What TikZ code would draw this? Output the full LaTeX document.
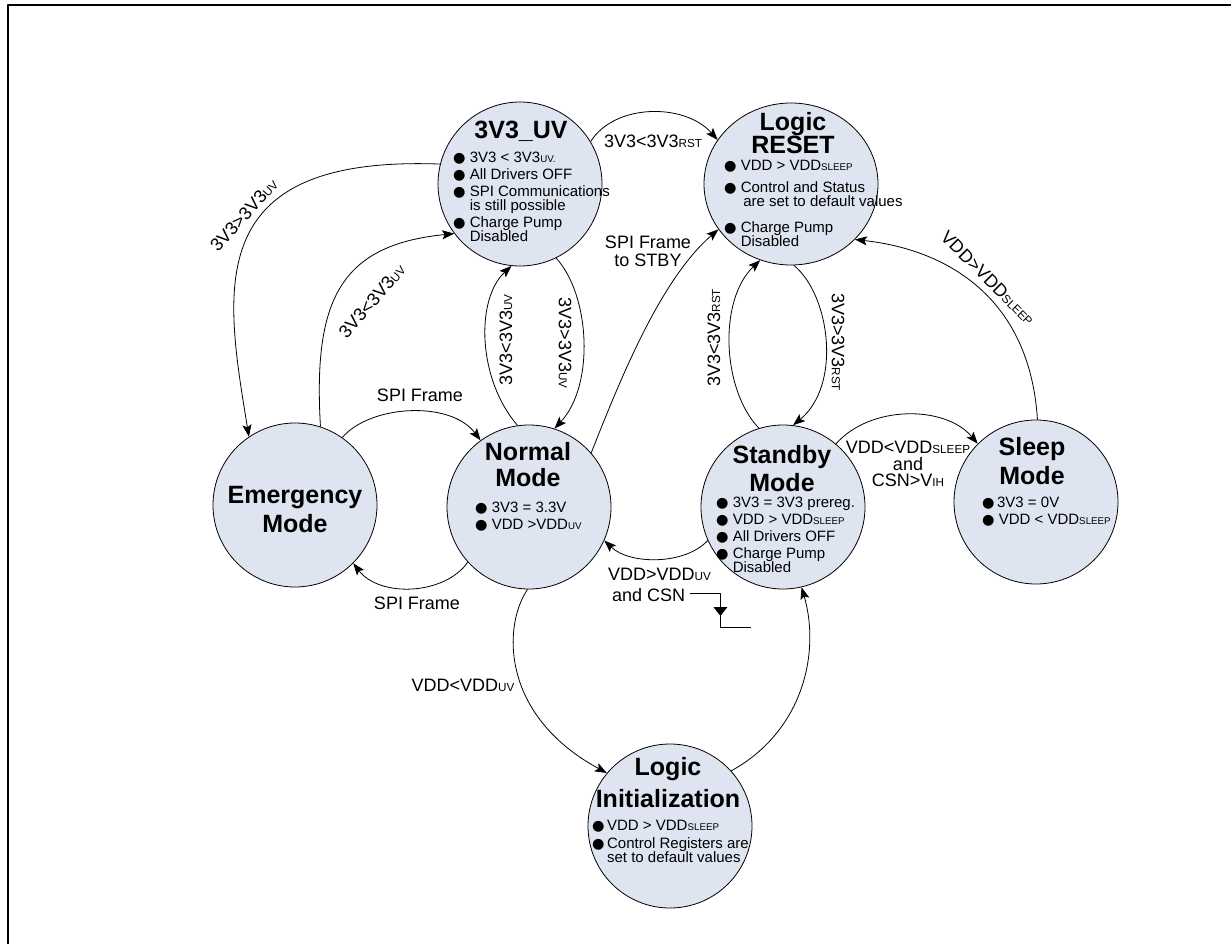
\documentclass[tikz,border=0pt]{standalone}
\usepackage{fontspec}
\usepackage{graphicx}
\setmainfont{Liberation Sans}
\newfontfamily\symfont{DejaVu Sans}
\usetikzlibrary{arrows.meta,shapes.geometric}
\definecolor{statefill}{RGB}{222,229,241}
\newcommand\sml[1]{\scalebox{0.65}{#1}}
\newcommand\bul{{\symfont\scalebox{0.95}{●}}}
\newcommand\ind{\phantom{\bul\ }}
\begin{document}
\begin{tikzpicture}[x=1pt,y=-1pt,>={Stealth[length=12pt,width=9pt,inset=2.5pt]},line join=round,
	font=\fontsize{18}{18}\selectfont,
	state/.style={circle,draw,fill=statefill,minimum size=164pt,inner sep=0pt,line width=0.8pt},
	title/.style={font=\fontsize{25}{27}\selectfont\bfseries,align=center,inner sep=0pt,anchor=north},
	body/.style={font=\fontsize{15}{14}\selectfont,align=left,inner sep=0pt,anchor=north west},
	lbl/.style={inner sep=0pt,align=center},
	trans/.style={->,line width=0.8pt}]
	\useasboundingbox (0,0) rectangle (1231,944);
	\draw[line width=2.2pt] (8,944) |- (1231,5.3);
	% states
	\node[state] (uv) at (520,184) {};
	\node[state,ellipse,minimum width=174pt,minimum height=162pt] (rst) at (791,184) {};
	\node[state] (em) at (295,505) {};
	\node[state] (nor) at (529,507) {};
	\node[state] (stb) at (783,507) {};
	\node[state] (slp) at (1036,502) {};
	\node[state] (ini) at (670,826) {};
	% titles
	\node[title] (uvT) at (521,121) {3V3\_UV};
	\node[title] (rstT) at (793,112) {Logic\\[-4pt]RESET};
	\node[title] (emT) at (295,486) {Emergency\\[2pt]Mode};
	\node[title] (norT) at (528,442) {Normal\\[-1pt]Mode};
	\node[title] (stbT) at (782,445) {Standby\\[1pt]Mode};
	\node[title] (slpT) at (1032,437) {Sleep\\[2pt]Mode};
	\node[title] (iniT) at (668,757) {Logic\\[5pt]Initialization};
	% contents
	\node[body] (uvB) at (453,152) {\bul\ 3V3 < 3V3\sml{UV.}\\[3pt]\bul\ All Drivers OFF\\[3pt]\bul\ SPI Communications\\\ind is still possible\\[3pt]\bul\ Charge Pump\\\ind Disabled};
	\node[body] (rstB) at (724,160) {\bul\ VDD > VDD\sml{SLEEP}\\[8pt]\bul\ Control and Status\\\ind\,are set to default values\\[12pt]\bul\ Charge Pump\\\ind Disabled};
	\node[body] (norB) at (475,502) {\bul\ 3V3 = 3.3V\\[3pt]\bul\ VDD >VDD\sml{UV}};
	\node[body] (stbB) at (716,497) {\bul\ 3V3 = 3V3 prereg.\\[3pt]\bul\ VDD > VDD\sml{SLEEP}\\[3pt]\bul\ All Drivers OFF\\[3pt]\bul\ Charge Pump\\\ind Disabled};
	\node[body] (slpB) at (982,497) {\bul\,3V3 = 0V\\[3pt]\bul\ VDD < VDD\sml{SLEEP}};
	\node[body] (iniB) at (592,820) {\bul\,VDD > VDD\sml{SLEEP}\\[4pt]\bul\,Control Registers are\\\phantom{\bul\,}set to default values};
	% transitions
	\draw[trans] (uv.166) .. controls (200,155) and (225,290) .. (em.124);
	\draw[trans] (em.72) .. controls (313,300) and (340,245) .. (uv.217);
	\draw[trans] (em.55) .. controls (370,405) and (450,400) .. (nor.126);
	\draw[trans] (nor.222) .. controls (445,595) and (380,598) .. (em.315);
	\draw[trans] (nor.98) .. controls (478,380) and (475,300) .. (uv.264);
	\draw[trans] (uv.296) .. controls (590,295) and (595,385) .. (nor.72);
	\draw[trans] (uv.31) .. controls (615,103) and (685,103) .. (rst.149);
	\draw[trans] (nor.41) .. controls (620,380) and (660,280) .. (rst.212);
	\draw[trans] (stb.107) .. controls (722,390) and (718,300) .. (rst.248);
	\draw[trans] (rst.272) .. controls (830,295) and (842,385) .. (stb.83);
	\draw[trans] (stb.50) .. controls (870,405) and (945,405) .. (slp.135);
	\draw[trans] (slp.89) .. controls (1030,300) and (950,250) .. (rst.319);
	\draw[trans] (stb.204) .. controls (685,565) and (630,565) .. (nor.336);
	\draw[trans] (nor.269) .. controls (503,625) and (500,715) .. (ini.140);
	\draw[trans] (ini.42) .. controls (805,730) and (820,650) .. (stb.283);
	% conditions
	\node[lbl,rotate=48] (upEm) at (244,215) {3V3>3V3\sml{UV}};
	\node[lbl,rotate=49] (dnEm) at (372,301) {3V3<3V3\sml{UV}};
	\node[lbl] (spiA) at (420,395) {SPI Frame};
	\node[lbl] (spiB) at (417,603) {SPI Frame};
	\node[lbl,rotate=90] (dnNor) at (506,340) {3V3<3V3\sml{UV}};
	\node[lbl,rotate=-90] (upNor) at (565,343) {3V3>3V3\sml{UV}};
	\node[lbl] (rstUv) at (653,141) {3V3<3V3\sml{RST}};
	\node[lbl] (spiC) at (648,251) {SPI Frame\\to STBY};
	\node[lbl,rotate=90] (rstStb) at (714,338) {3V3<3V3\sml{RST}};
	\node[lbl,rotate=-90] (stbRst) at (838,342) {3V3>3V3\sml{RST}};
	\node[lbl] (toSlp) at (908,464) {VDD<VDD\sml{SLEEP}\\[-1.5pt]and\\[-1.5pt]CSN>V\sml{IH}};
	\node[lbl,rotate=-45] (slpRst) at (988,278) {VDD>VDD\sml{SLEEP}};
	\node[lbl,anchor=west] (vddUv) at (608,574) {VDD>VDD\sml{UV}};
	\node[lbl,anchor=west] (csn) at (612,595) {and CSN};
	\node[lbl] (toIni) at (463,685) {VDD<VDD\sml{UV}};
	% falling edge of CSN
	\draw[line width=0.8pt] ([xshift=5pt,yshift=2pt]csn.east) -- ++(30,0) |- ++(31,34);
	\fill ([xshift=28pt,yshift=-12pt]csn.east) -- ++(14,0) -- ++(-7,9) -- cycle;
\end{tikzpicture}
\end{document}
